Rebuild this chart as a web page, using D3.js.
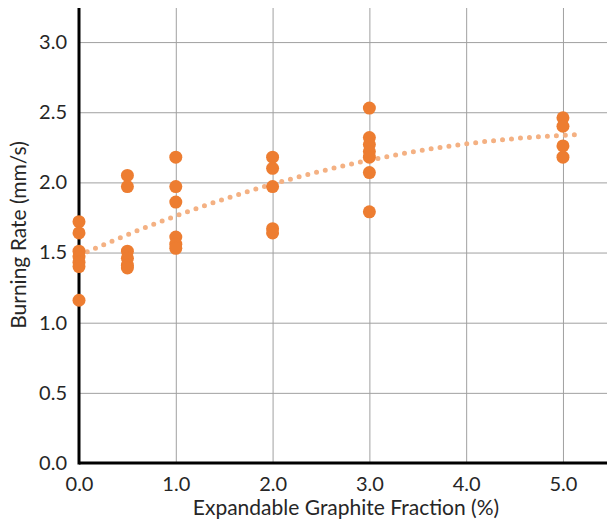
<!DOCTYPE html>
<html>
  <head>
    <title>Burning Rate</title>
    <style>
      body {margin:0; background:#fff;}
      svg {display:block;}
      .tick text {font-family: Lato, "Open Sans", sans-serif; font-size:20px; fill:#262626;}
      .title {font-family: Lato, "Open Sans", sans-serif; font-size:21px; fill:#262626;}
      .grid line {stroke:#a0a0a0; stroke-width:1px;}
      .grid path {display:none;}
      .axis path, .axis line {display:none;}
    </style>
    <script src="https://cdn.jsdelivr.net/npm/d3@7"></script>
  </head>
  <body>
    <svg id="chart" width="607" height="521"></svg>
    <script>
      var svgWidth  = 607;
      var svgHeight = 521;
      // graphite fraction (%) for each sample
      var fraction = [0,0,0,0,0,0,0,
                      0.5,0.5,0.5,0.5,0.5,0.5,
                      1,1,1,1,1,1,
                      2,2,2,2,2,
                      3,3,3,3,3,3,3,
                      5,5,5,5];
      // burning rate (mm/s)
      var rate = [1.72,1.64,1.51,1.47,1.43,1.40,1.16,
                  2.05,1.97,1.51,1.46,1.41,1.39,
                  2.18,1.97,1.86,1.61,1.56,1.53,
                  2.18,2.10,1.97,1.67,1.64,
                  2.53,2.32,2.27,2.22,2.18,2.07,1.79,
                  2.46,2.40,2.26,2.18];
      var xTicks = [0,1,2,3,4,5];
      var yTicks = [0,0.5,1,1.5,2,2.5,3];
      var trendEnd = 5.15;

      var margin = {top: 8, left: 79, bottom: 58, right: 0};
      var x = d3.scaleLinear().domain([0, 5.455]).range([margin.left, svgWidth - margin.right]);
      var y = d3.scaleLinear().domain([0, 3.243]).range([svgHeight - margin.bottom, margin.top]);

      var svg = d3.select("#chart");

      // grid
      svg.append("g")
         .attr("class","grid")
         .attr("transform","translate(0," + (svgHeight - margin.bottom) + ")")
         .call(d3.axisBottom(x).tickValues(xTicks.slice(1)).tickSize(-(svgHeight - margin.bottom - margin.top)).tickFormat(""));
      svg.append("g")
         .attr("class","grid")
         .attr("transform","translate(" + margin.left + ",0)")
         .call(d3.axisLeft(y).tickValues(yTicks.slice(1)).tickSize(-(svgWidth - margin.left - margin.right)).tickFormat(""));

      // axis labels
      svg.append("g")
         .attr("class","axis")
         .attr("transform","translate(0," + (svgHeight - margin.bottom) + ")")
         .call(d3.axisBottom(x).tickValues(xTicks).tickSize(0).tickPadding(14).tickFormat(d3.format(".1f")));
      svg.append("g")
         .attr("class","axis")
         .attr("transform","translate(" + margin.left + ",0)")
         .call(d3.axisLeft(y).tickValues(yTicks).tickSize(0).tickPadding(12).tickFormat(d3.format(".1f")));

      // axis lines
      svg.append("line")
         .attr("x1", x(0)).attr("x2", svgWidth)
         .attr("y1", y(0)).attr("y2", y(0))
         .attr("stroke","black").attr("stroke-width",3);
      svg.append("line")
         .attr("x1", x(0)).attr("x2", x(0))
         .attr("y1", y(0) + 1.5).attr("y2", margin.top)
         .attr("stroke","black").attr("stroke-width",3);

      // quadratic least squares trend line
      var n = fraction.length, s = [0,0,0,0,0], t = [0,0,0];
      for (var i = 0; i < n; i++) {
        var xi = fraction[i], yi = rate[i];
        for (var k = 0; k < 5; k++) s[k] += Math.pow(xi, k);
        for (var k = 0; k < 3; k++) t[k] += Math.pow(xi, k) * yi;
      }
      var A = [[s[0],s[1],s[2],t[0]],[s[1],s[2],s[3],t[1]],[s[2],s[3],s[4],t[2]]];
      for (var c = 0; c < 3; c++) {
        for (var r = c + 1; r < 3; r++) {
          var f = A[r][c] / A[c][c];
          for (var k = c; k < 4; k++) A[r][k] -= f * A[c][k];
        }
      }
      var coef = [0,0,0];
      for (var r = 2; r >= 0; r--) {
        var v = A[r][3];
        for (var k = r + 1; k < 3; k++) v -= A[r][k] * coef[k];
        coef[r] = v / A[r][r];
      }
      var trendX = d3.range(0, trendEnd + 0.001, 0.05);
      svg.append("path")
         .datum(trendX)
         .attr("fill","none")
         .attr("stroke","#f4b183")
         .attr("stroke-width",5)
         .attr("stroke-linecap","round")
         .attr("stroke-dasharray","0 9")
         .attr("d", d3.line()
            .x(function(d){ return x(d); })
            .y(function(d){ return y(coef[0] + coef[1]*d + coef[2]*d*d); }));

      // points
      svg.selectAll("circle.pt")
         .data(rate)
         .enter()
         .append("circle")
         .attr("class","pt")
         .attr("cx", function(d,i){ return x(fraction[i]); })
         .attr("cy", function(d){ return y(d); })
         .attr("r", 6.5)
         .attr("fill","#ed7d31");

      // titles
      svg.append("text")
         .attr("class","title")
         .attr("x", 346)
         .attr("y", 515)
         .attr("text-anchor","middle")
         .text("Expandable Graphite Fraction (%)");
      svg.append("text")
         .attr("class","title")
         .attr("transform","translate(26,235) rotate(-90)")
         .attr("text-anchor","middle")
         .text("Burning Rate (mm/s)");
    </script>
  </body>
</html>
